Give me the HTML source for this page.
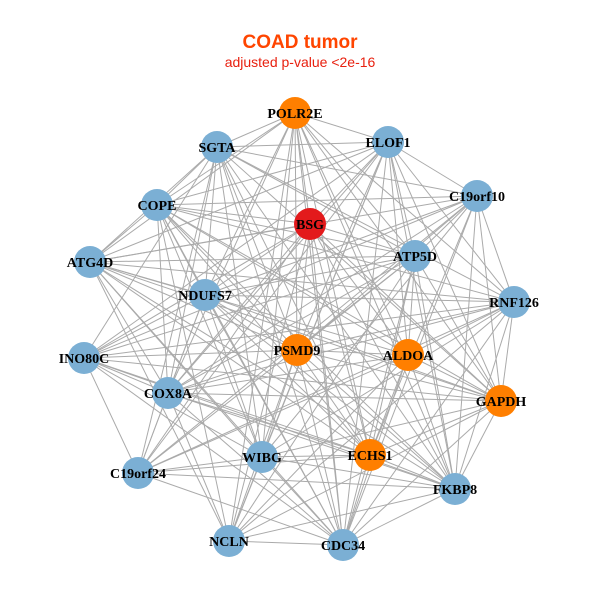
<!DOCTYPE html>
<html><head><meta charset="utf-8"><style>
html,body{margin:0;padding:0;background:#fff;width:600px;height:600px;overflow:hidden}
svg{display:block}
.t{font-family:"Liberation Sans",sans-serif}
.n{font-family:"Liberation Serif",serif;font-weight:bold;font-size:14px;text-anchor:middle;fill:#000}
</style></head><body>
<svg id="s" width="600" height="600" viewBox="0 0 600 600">
<rect width="600" height="600" fill="#fff"/>
<text class="t" x="300" y="48" text-anchor="middle" font-size="19" font-weight="bold" fill="#FF4500">COAD tumor</text>
<text class="t" x="300" y="67" text-anchor="middle" font-size="14" fill="#E8200F">adjusted p-value &lt;2e-16</text>
<g id="edges" stroke="#aaaaaa" stroke-width="1"></g>
<g id="nodes">
<circle cx="295" cy="113" r="16" fill="#FF7F00"/>
<circle cx="217" cy="147" r="16" fill="#7BAFD4"/>
<circle cx="388" cy="142" r="16" fill="#7BAFD4"/>
<circle cx="477" cy="196" r="16" fill="#7BAFD4"/>
<circle cx="157" cy="205" r="16" fill="#7BAFD4"/>
<circle cx="310" cy="224" r="16" fill="#E31A1C"/>
<circle cx="415" cy="256" r="16" fill="#7BAFD4"/>
<circle cx="90" cy="262" r="16" fill="#7BAFD4"/>
<circle cx="205" cy="295" r="16" fill="#7BAFD4"/>
<circle cx="514" cy="302" r="16" fill="#7BAFD4"/>
<circle cx="84" cy="358" r="16" fill="#7BAFD4"/>
<circle cx="297" cy="350" r="16" fill="#FF7F00"/>
<circle cx="408" cy="355" r="16" fill="#FF7F00"/>
<circle cx="168" cy="393" r="16" fill="#7BAFD4"/>
<circle cx="501" cy="401" r="16" fill="#FF7F00"/>
<circle cx="370" cy="455" r="16" fill="#FF7F00"/>
<circle cx="262" cy="457" r="16" fill="#7BAFD4"/>
<circle cx="138" cy="473" r="16" fill="#7BAFD4"/>
<circle cx="455" cy="489" r="16" fill="#7BAFD4"/>
<circle cx="229" cy="541" r="16" fill="#7BAFD4"/>
<circle cx="343" cy="545" r="16" fill="#7BAFD4"/>
</g>
<g>
<text class="n" x="295" y="118">POLR2E</text>
<text class="n" x="217" y="152">SGTA</text>
<text class="n" x="388" y="147">ELOF1</text>
<text class="n" x="477" y="201">C19orf10</text>
<text class="n" x="157" y="210">COPE</text>
<text class="n" x="310" y="229">BSG</text>
<text class="n" x="415" y="261">ATP5D</text>
<text class="n" x="90" y="267">ATG4D</text>
<text class="n" x="205" y="300">NDUFS7</text>
<text class="n" x="514" y="307">RNF126</text>
<text class="n" x="84" y="363">INO80C</text>
<text class="n" x="297" y="355">PSMD9</text>
<text class="n" x="408" y="360">ALDOA</text>
<text class="n" x="168" y="398">COX8A</text>
<text class="n" x="501" y="406">GAPDH</text>
<text class="n" x="370" y="460">ECHS1</text>
<text class="n" x="262" y="462">WIBG</text>
<text class="n" x="138" y="478">C19orf24</text>
<text class="n" x="455" y="494">FKBP8</text>
<text class="n" x="229" y="546">NCLN</text>
<text class="n" x="343" y="550">CDC34</text>
</g>
</svg>
<script>
var P=[[295,113],[217,147],[388,142],[477,196],[157,205],[310,224],[415,256],[90,262],[205,295],[514,302],[84,358],[297,350],[408,355],[168,393],[501,401],[370,455],[262,457],[138,473],[455,489],[229,541],[343,545]];
var g=document.getElementById('edges'),ns='http://www.w3.org/2000/svg',k=0;
for(var i=0;i<P.length;i++)for(var j=i+1;j<P.length;j++){k++;if(k%7==3)continue;
var l=document.createElementNS(ns,'line');l.setAttribute('x1',P[i][0]);l.setAttribute('y1',P[i][1]);l.setAttribute('x2',P[j][0]);l.setAttribute('y2',P[j][1]);g.appendChild(l);}
</script>
</body></html>
